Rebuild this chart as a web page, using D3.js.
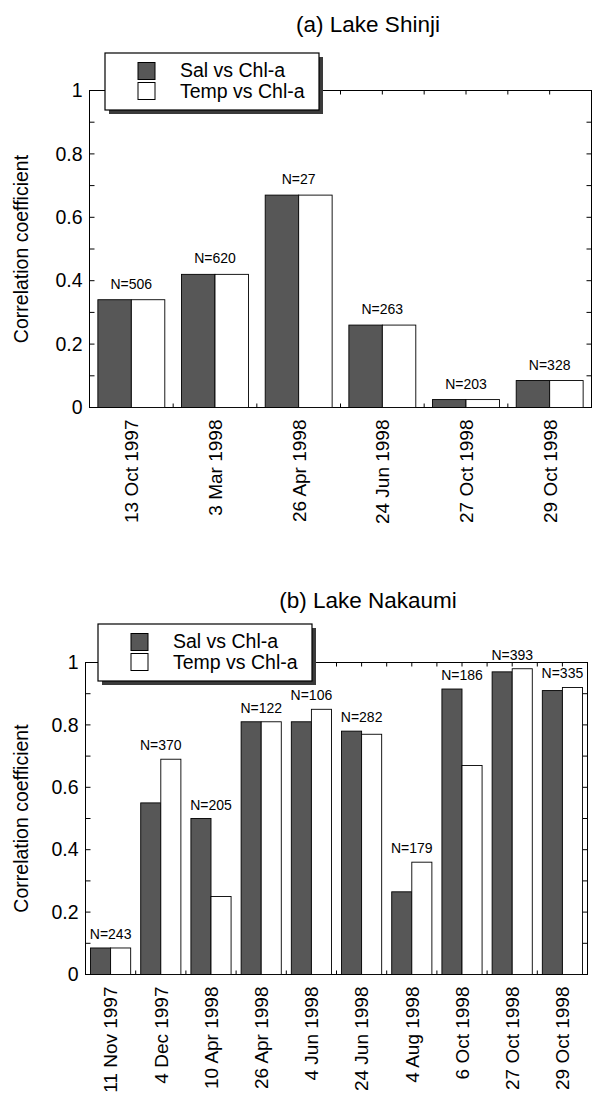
<!DOCTYPE html>
<html>
<head>
<meta charset="utf-8">
<script src="https://cdn.jsdelivr.net/npm/d3@7"></script>
<style>
  body { margin: 0; background: #fff; }
  text { font-family: "Liberation Sans", Arial, Helvetica, sans-serif; fill: #000; }
</style>
</head>
<body>
<svg id="chart" width="593" height="1098"></svg>
<script>
// (a) Lake Shinji
var shinjiDates = ["13 Oct 1997", "3 Mar 1998", "26 Apr 1998", "24 Jun 1998", "27 Oct 1998", "29 Oct 1998"];
var shinjiSal = [0.34, 0.42, 0.67, 0.26, 0.025, 0.085];
var shinjiTemp = [0.34, 0.42, 0.67, 0.26, 0.025, 0.085];
var shinjiN = [506, 620, 27, 263, 203, 328];

// (b) Lake Nakaumi
var nakaumiDates = ["11 Nov 1997", "4 Dec 1997", "10 Apr 1998", "26 Apr 1998", "4 Jun 1998",
  "24 Jun 1998", "4 Aug 1998", "6 Oct 1998", "27 Oct 1998", "29 Oct 1998"];
var nakaumiSal = [0.085, 0.55, 0.50, 0.81, 0.81, 0.78, 0.265, 0.915, 0.97, 0.91];
var nakaumiTemp = [0.085, 0.69, 0.25, 0.81, 0.85, 0.77, 0.36, 0.67, 0.98, 0.92];
var nakaumiN = [243, 370, 205, 122, 106, 282, 179, 186, 393, 335];

var seriesNames = ["Sal vs Chl-a", "Temp vs Chl-a"];
var seriesColors = ["#575757", "#ffffff"];
var yTicks = [0, 0.2, 0.4, 0.6, 0.8, 1];
var yMinor = d3.range(0, 11).map(function (i) { return i / 10; });

var svg = d3.select("#chart");

function drawPanel(p) {
  var g = svg.append("g");

  var x = d3.scaleBand()
    .domain(p.dates)
    .range([p.left, p.right])
    .paddingInner(0.2)
    .paddingOuter(0.1);

  var xs = d3.scaleBand()
    .domain([0, 1])
    .range([0, x.bandwidth()]);

  var y = d3.scaleLinear()
    .domain([0, 1])
    .range([p.bottom, p.top]);

  var step = x.step();

  //frame
  g.append("rect")
    .attr("x", p.left).attr("y", p.top)
    .attr("width", p.right - p.left).attr("height", p.bottom - p.top)
    .attr("fill", "none").attr("stroke", "#000").attr("stroke-width", 1);

  //inward ticks left / right
  g.selectAll(".ytick").data(yMinor).enter().append("line")
    .attr("x1", p.left).attr("x2", p.left + 5)
    .attr("y1", function (d) { return y(d); }).attr("y2", function (d) { return y(d); })
    .attr("stroke", "#000");
  g.selectAll(".ytickr").data(yMinor).enter().append("line")
    .attr("x1", p.right - 5).attr("x2", p.right)
    .attr("y1", function (d) { return y(d); }).attr("y2", function (d) { return y(d); })
    .attr("stroke", "#000");

  //top ticks at half steps, bottom ticks at group boundaries
  var halfSteps = d3.range(1, p.dates.length * 2).map(function (i) { return p.left + i * step / 2; });
  g.selectAll(".xtickt").data(halfSteps).enter().append("line")
    .attr("x1", function (d) { return d; }).attr("x2", function (d) { return d; })
    .attr("y1", p.top).attr("y2", p.top + 4)
    .attr("stroke", "#000");
  g.selectAll(".xtickb").data(halfSteps).enter().append("line")
    .attr("x1", function (d) { return d; }).attr("x2", function (d) { return d; })
    .attr("y1", p.bottom).attr("y2", p.bottom - 4)
    .attr("stroke", "#000");

  //y axis labels
  var yAxis = d3.axisLeft(y)
    .tickValues(yTicks)
    .tickFormat(d3.format("~g"))
    .tickSize(0)
    .tickPadding(7);
  var ya = g.append("g")
    .attr("transform", "translate(" + p.left + ",0)")
    .call(yAxis);
  ya.select(".domain").remove();
  ya.selectAll("text")
    .style("font-size", "19.5px")
    .attr("fill", "#000");

  g.append("text")
    .attr("transform", "translate(21," + ((p.top + p.bottom) / 2) + ") rotate(-90)")
    .attr("text-anchor", "middle")
    .attr("dy", "0.35em")
    .style("font-size", "19.5px")
    .text("Correlation coefficient");

  //x labels rotated
  g.selectAll(".xlab").data(p.dates).enter().append("text")
    .attr("transform", function (d) {
      return "translate(" + (x(d) + x.bandwidth() / 2) + "," + (p.bottom + p.labGap) + ") rotate(-90)";
    })
    .attr("text-anchor", "end")
    .attr("dy", "0.36em")
    .style("font-size", p.labSize)
    .text(function (d) { return d; });

  //bars
  var rows = p.dates.map(function (d, i) {
    return { date: d, vals: [p.sal[i], p.temp[i]], n: p.n[i] };
  });

  var grp = g.selectAll(".grp").data(rows).enter().append("g")
    .attr("transform", function (d) { return "translate(" + x(d.date) + ",0)"; });

  grp.selectAll("rect").data(function (d) { return d.vals; }).enter().append("rect")
    .attr("x", function (d, i) { return xs(i); })
    .attr("y", function (d) { return y(d); })
    .attr("width", xs.bandwidth())
    .attr("height", function (d) { return y(0) - y(d); })
    .attr("fill", function (d, i) { return seriesColors[i]; })
    .attr("stroke", "#000")
    .attr("stroke-width", 0.9);

  grp.append("text")
    .attr("x", x.bandwidth() / 2)
    .attr("y", function (d) { return y(d3.max(d.vals)) - p.nGap; })
    .attr("text-anchor", "middle")
    .style("font-size", "14px")
    .text(function (d) { return "N=" + d.n; });

  //legend
  var lg = g.append("g")
    .attr("transform", "translate(" + p.legendX + "," + p.legendY + ")");
  lg.append("rect")
    .attr("x", 4).attr("y", 4).attr("width", 214).attr("height", 57)
    .attr("fill", "#3a3a3a");
  lg.append("rect")
    .attr("x", 0).attr("y", 0).attr("width", 214).attr("height", 57)
    .attr("fill", "#fff").attr("stroke", "#000").attr("stroke-width", 1.2);
  seriesNames.forEach(function (s, i) {
    lg.append("rect")
      .attr("x", 33).attr("y", 9.5 + i * 20)
      .attr("width", 17).attr("height", 17)
      .attr("fill", seriesColors[i]).attr("stroke", "#000");
    lg.append("text")
      .attr("x", 75).attr("y", 24 + i * 21)
      .style("font-size", "19.5px")
      .text(s);
  });

  //title
  g.append("text")
    .attr("x", 368).attr("y", p.titleY)
    .attr("text-anchor", "middle")
    .style("font-size", "22.5px")
    .text(p.title);
}

drawPanel({
  title: "(a) Lake Shinji",
  dates: shinjiDates, sal: shinjiSal, temp: shinjiTemp, n: shinjiN,
  left: 89.5, right: 591.5, top: 90.5, bottom: 407.5,
  titleY: 32, legendX: 105, legendY: 53, nGap: 11, labGap: 12, labSize: "19px"
});

drawPanel({
  title: "(b) Lake Nakaumi",
  dates: nakaumiDates, sal: nakaumiSal, temp: nakaumiTemp, n: nakaumiN,
  left: 85.5, right: 587.5, top: 662.5, bottom: 974.5,
  titleY: 608, legendX: 98, legendY: 624, nGap: 9, labGap: 12, labSize: "19px"
});
</script>
</body>
</html>
